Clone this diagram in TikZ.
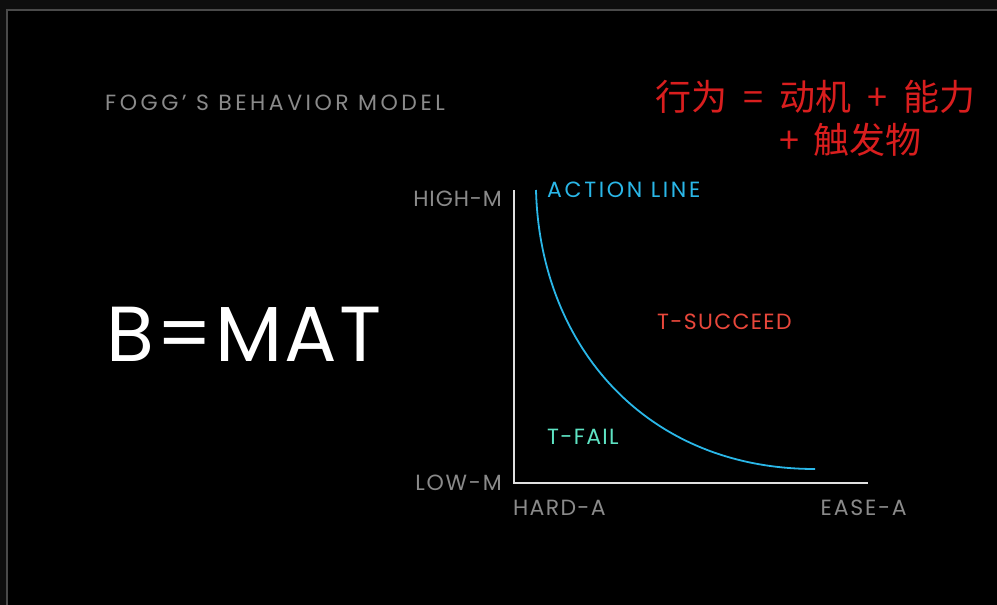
\documentclass[tikz,border=0pt]{standalone}
\usepackage{fontspec}
\usepackage{xcolor}
\newfontfamily\geo{Poppins}
\newfontfamily\cjk{Noto Sans CJK SC}
\definecolor{sfondo}{HTML}{0E0E0E}
\definecolor{cornice}{HTML}{4A4A4A}
\definecolor{grigio}{HTML}{8A8A8A}
\definecolor{assecol}{HTML}{E0E0E0}
\definecolor{azzurro}{HTML}{2AB7E8}
\definecolor{rosso}{HTML}{E8473B}
\definecolor{acqua}{HTML}{5EE3C3}
\definecolor{rossocn}{HTML}{D91E1E}

\begin{document}
\begin{tikzpicture}[x=1pt, y=-1pt,
    etichetta/.style={inner sep=0pt, text=grigio,
        font=\geo\fontsize{22}{22}\selectfont\addfontfeature{LetterSpace=#1}},
    etichetta/.default=7,
    cinese/.style={inner sep=0pt, anchor=west, text=rossocn, font=\cjk\fontsize{36}{36}\selectfont},
    asse/.style={assecol, line width=2pt},
    azione/.style={azzurro, line width=1.8pt}]

    % Sfondo e cornice
    \useasboundingbox (0,0) rectangle (997,605);
    \fill[sfondo] (0,0) rectangle (997,605);
    \filldraw[fill=black, draw=cornice, line width=2pt] (7,620) -- (7,10) -- (1010,10) -- (1010,620) -- cycle;

    % Titolo
    \node[etichetta=16, anchor=west] (titolo) at (105,103) {FOGG’ S BEHAVIOR MODEL};
    \node[inner sep=0pt, anchor=west, text=white,
        font=\geo\fontsize{78}{78}\selectfont\addfontfeature{LetterSpace=3}] (formula) at (106,334) {B=MAT};

    % Formula in cinese
    \node[cinese] (riga1) at (655,97) {行为\hspace{16pt}=\hspace{16pt}动机\hspace{16pt}+\hspace{16pt}能力};
    \node[cinese] (riga2) at (779,140) {+\hspace{14pt}触发物};

    % Assi
    \coordinate (cima) at (514,190);
    \coordinate (origine) at (514,483);
    \coordinate (destra) at (868,483);
    \draw[asse] (cima) -- (origine) -- (destra);

    % Etichette degli assi
    \node[etichetta=4, anchor=east] (alta) at (502,199) {HIGH-M};
    \node[etichetta=8, anchor=east] (bassa) at (502,483) {LOW-M};
    \node[etichetta=6, anchor=west] (difficile) at (513,508) {HARD-A};
    \node[etichetta=8, anchor=east] (facile) at (907,508) {EASE-A};

    % Linea d'azione
    \coordinate (inizio) at (536,190);
    \coordinate (fine) at (815,469);
    \draw[azione] (inizio) .. controls (540,345) and (645,469) .. (fine);
    \node[etichetta=12, anchor=west, text=azzurro] (linea) at (547,190) {ACTION LINE};

    % Zone
    \node[etichetta=6, anchor=west, text=rosso] (successo) at (657,322) {T-SUCCEED};
    \node[etichetta=6, anchor=west, text=acqua] (fallimento) at (547,437) {T-FAIL};
\end{tikzpicture}
\end{document}
